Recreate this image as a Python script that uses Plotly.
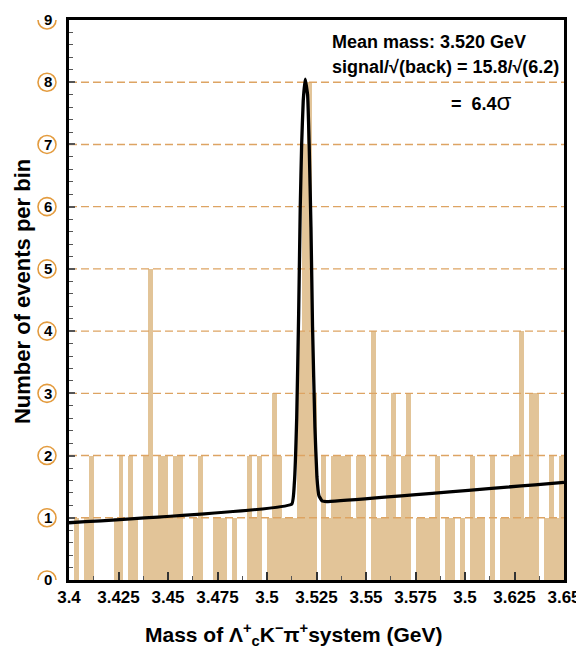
import plotly.graph_objects as go

# ---------------- data ----------------
mass_low = 3.400          # GeV, left edge of first bin
bin_width = 0.0025        # GeV
counts = [0, 1, 0, 1, 2, 0, 0, 0, 0, 1,
          2, 0, 2, 1, 0, 2, 5, 1, 2, 2,
          1, 2, 2, 0, 0, 1, 2, 0, 0, 1,
          1, 1, 0, 1, 0, 0, 2, 1, 2, 0,
          1, 3, 2, 1, 1, 1, 4, 7, 8, 3,
          0, 2, 1, 2, 2, 2, 2, 1, 2, 2,
          0, 4, 1, 1, 2, 3, 1, 2, 3, 0,
          1, 1, 1, 1, 2, 0, 1, 1, 0, 1,
          0, 2, 1, 1, 0, 2, 0, 1, 1, 2,
          2, 4, 1, 3, 3, 0, 1, 2, 1, 2]

fit_mass = [3.400, 3.5125, 3.5138, 3.5150, 3.5160, 3.5168, 3.5175, 3.5183, 3.5193,
            3.5205, 3.5213, 3.5222, 3.5230, 3.5242, 3.5252, 3.5262, 3.5278,
            3.5300, 3.650]
fit_value = [0.92, 1.22, 1.55, 2.60, 4.30, 6.00, 7.00, 7.70, 8.05,
             7.80, 7.00, 5.67, 4.07, 2.46, 1.66, 1.36, 1.27,
             1.26, 1.57]

x_tick_vals = [3.4, 3.425, 3.45, 3.475, 3.5, 3.525, 3.55, 3.575, 3.6, 3.625, 3.65]
x_tick_text = ["3.4", "3.425", "3.45", "3.475", "3.5", "3.525", "3.55", "3.575",
               "3.5", "3.625", "3.65"]
y_tick_vals = [0, 1, 2, 3, 4, 5, 6, 7, 8, 9]
grid_levels = [1, 2, 3, 4, 5, 6, 7, 8]

x_range = [3.400, 3.650]
y_range = [0, 9]

# ---------------- styles ----------------
BAR = "#E2C498"
GRID = "#DDA463"
CIRCLE = "#E39B3E"
FONT = "Liberation Sans, Arial, sans-serif"

centers = [mass_low + (i + 0.5) * bin_width for i in range(len(counts))]

fig = go.Figure()
fig.add_trace(go.Bar(x=centers, y=counts, width=bin_width,
                     marker=dict(color=BAR, line=dict(width=0)),
                     hoverinfo="skip", showlegend=False))

gx, gy = [], []
for v in grid_levels:
    gx += [x_range[0], x_range[1], None]
    gy += [v, v, None]
fig.add_trace(go.Scatter(x=gx, y=gy, mode="lines",
                         line=dict(color=GRID, width=1.4, dash="8px,4px"),
                         hoverinfo="skip", showlegend=False))

fig.add_trace(go.Scatter(x=fit_mass, y=fit_value, mode="lines",
                         line=dict(color="black", width=3.3, shape="spline", smoothing=0.3),
                         hoverinfo="skip", showlegend=False))

shapes = []
for v in y_tick_vals:
    shapes.append(dict(type="circle", xref="paper", yref="y",
                       xsizemode="pixel", ysizemode="pixel",
                       xanchor=0, yanchor=v,
                       x0=-31, x1=-13, y0=-9, y1=9,
                       line=dict(color=CIRCLE, width=1.6),
                       fillcolor="rgba(0,0,0,0)", layer="above"))

annotations = [
    dict(text="<b>Mean mass: 3.520 GeV</b>", xref="paper", yref="paper",
         x=0.527, y=0.961, xanchor="left", yanchor="middle", showarrow=False,
         font=dict(family=FONT, size=18, color="black")),
    dict(text="<b>signal/√(back) = 15.8/√(6.2)</b>", xref="paper", yref="paper",
         x=0.527, y=0.916, xanchor="left", yanchor="middle", showarrow=False,
         font=dict(family=FONT, size=18, color="black")),
    dict(text="<b>=  6.4</b><span style='font-size:24px'>σ</span>", xref="paper", yref="paper",
         x=0.768, y=0.855, xanchor="left", yanchor="middle", showarrow=False,
         font=dict(family=FONT, size=18, color="black")),
    dict(text="<b>Number of events per bin</b>", xref="paper", yref="paper",
         x=-0.095, y=0.516, xanchor="center", yanchor="middle", textangle=-90,
         showarrow=False, font=dict(family=FONT, size=22, color="black")),
    dict(text="<b>Mass of Λ<sup>+</sup><sub>c</sub>K<sup>−</sup>π<sup>+</sup>system (GeV)</b>",
         xref="paper", yref="paper", x=0.4545, y=-0.098,
         xanchor="center", yanchor="middle", showarrow=False,
         font=dict(family=FONT, size=21, color="black")),
]

# the page body adds an 8px offset, so the figure is sized to fit the 584x650 window
fig.update_layout(
    width=576, height=642,
    margin=dict(l=61, r=20, t=12, b=70),
    paper_bgcolor="white", plot_bgcolor="white",
    bargap=0,
    font=dict(family=FONT, color="black"),
    shapes=shapes, annotations=annotations,
    showlegend=False,
)

fig.update_xaxes(
    range=x_range, tickvals=x_tick_vals, ticktext=x_tick_text,
    ticks="inside", ticklen=8, tickwidth=1.5, tickcolor="#333",
    minor=dict(dtick=0.0125, tick0=3.4, ticks="inside", ticklen=4, tickcolor="#555", tickwidth=1),
    showline=True, linewidth=2.5, linecolor="black", mirror=True,
    showgrid=False, zeroline=False, layer="above traces", automargin=False,
    tickfont=dict(family=FONT, size=17, color="black", weight="bold"),
    ticklabelstandoff=0,
)
fig.update_yaxes(
    range=y_range, tickvals=y_tick_vals,
    ticks="inside", ticklen=6, tickwidth=1.5, tickcolor="#555",
    minor=dict(dtick=0.2, ticks="inside", ticklen=4, tickcolor="#555", tickwidth=1),
    showline=True, linewidth=2.5, linecolor="black", mirror=True,
    showgrid=False, zeroline=False, layer="above traces", automargin=False,
    tickfont=dict(family=FONT, size=15, color="black", weight="bold"),
    ticklabelstandoff=11,
)

fig.write_html("out.html")
